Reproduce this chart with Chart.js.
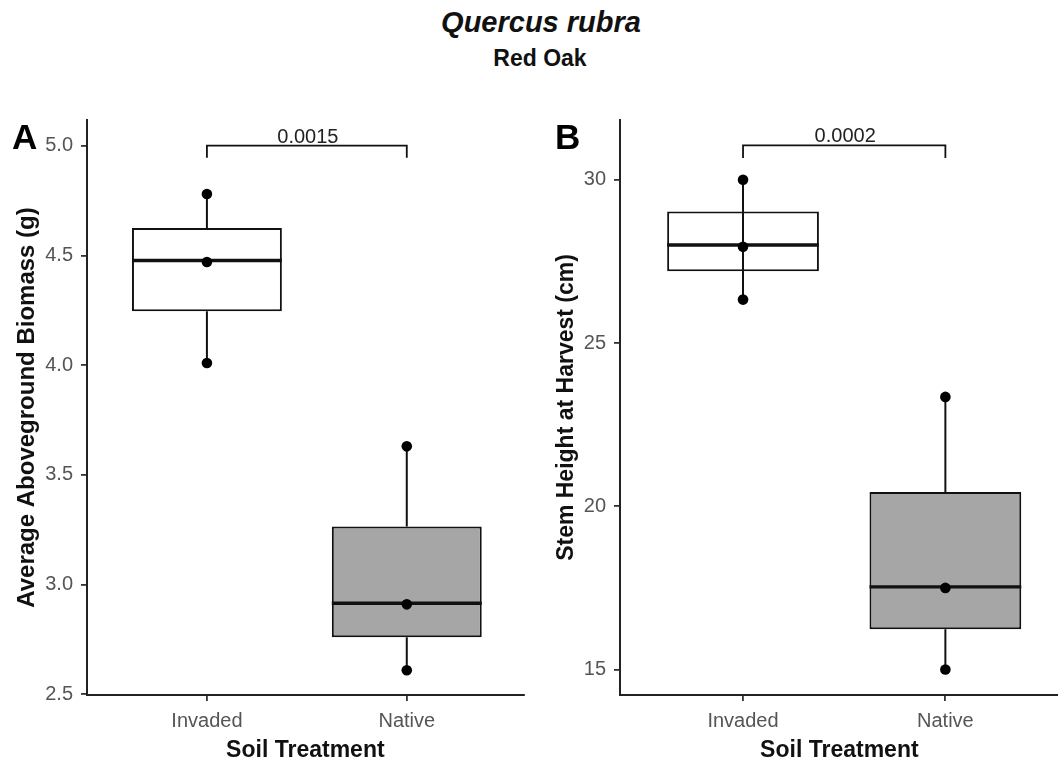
<!DOCTYPE html>
<html>
<head>
<meta charset="utf-8">
<script src="https://cdn.jsdelivr.net/npm/chart.js@4"></script>
<style>
  body { margin: 0; background: #fff; width: 1058px; height: 767px; position: relative; overflow: hidden;
         font-family: "Liberation Sans", Arial, sans-serif; }
  .txt { position: absolute; line-height: 1; white-space: nowrap; color: #000; z-index: 2; }
  #title { left: 0; width: 1082px; text-align: center; top: 8px; font-size: 29px; font-weight: bold; font-style: italic; color: #111; }
  #subtitle { left: 0; width: 1080px; text-align: center; top: 47px; font-size: 23px; font-weight: bold; color: #111; }
  .panel { font-size: 35px; font-weight: bold; top: 119px; }
  #wrapA { position: absolute; left: 0; top: 100px; width: 529px; height: 667px; }
  #wrapB { position: absolute; left: 530px; top: 100px; width: 534px; height: 667px; }
</style>
</head>
<body>
<div class="txt" id="title">Quercus rubra</div>
<div class="txt" id="subtitle">Red Oak</div>
<div class="txt panel" style="left:12px">A</div>
<div class="txt panel" style="left:555px">B</div>
<div id="wrapA"><canvas id="chartA"></canvas></div>
<div id="wrapB"><canvas id="chartB"></canvas></div>
<script>
// soil treatment groups
const groups = ['Invaded', 'Native'];

// Panel A - average aboveground biomass (g)
const biomassPoints = [[4.78, 4.47, 4.01], [3.63, 2.91, 2.61]];
const biomassQ1 = [4.245, 2.76];
const biomassMedian = [4.477, 2.915];
const biomassQ3 = [4.625, 3.265];
const biomassTicks = [2.5, 3.0, 3.5, 4.0, 4.5, 5.0];
const biomassBracket = [4.945, 5.0];   // foot, top
const biomassP = '0.0015';

// Panel B - stem height at harvest (cm)
const heightPoints = [[30.0, 27.95, 26.33], [23.35, 17.5, 15.0]];
const heightQ1 = [27.2, 16.23];
const heightMedian = [28.0, 17.53];
const heightQ3 = [29.03, 20.44];
const heightTicks = [15, 20, 25, 30];
const heightBracket = [30.67, 31.05];
const heightP = '0.0002';

Chart.defaults.font.family = '"Liberation Sans", Arial, sans-serif';
Chart.defaults.animation = false;

function pValueLabel(text, top) {
    return {
        id: 'pValueLabel',
        afterDatasetsDraw(chart) {
            const { ctx, scales: { x, y } } = chart;
            ctx.save();
            ctx.font = '20px "Liberation Sans", Arial, sans-serif';
            ctx.fillStyle = '#222';
            ctx.textAlign = 'center';
            ctx.textBaseline = 'alphabetic';
            ctx.fillText(text, (x.getPixelForValue(1) + x.getPixelForValue(2)) / 2 + 1, y.getPixelForValue(top) - 3);
            ctx.restore();
        }
    };
}

function boxChart(id, o) {
    const half = 0.375; // half box width in category units
    const under = [], over = [], medians = [], dots = [], boxes = [];
    o.points.forEach((pts, i) => {
        const x = i + 1;
        const lo = Math.min(...pts), hi = Math.max(...pts);
        if (o.through[i]) {
            over.push({ x, y: hi }, { x, y: lo }, { x, y: null });
        } else {
            under.push({ x, y: hi }, { x, y: o.q3[i] }, { x, y: null },
                       { x, y: o.q1[i] }, { x, y: lo }, { x, y: null });
        }
        medians.push({ x: x - half, y: o.median[i] }, { x: x + half, y: o.median[i] }, { x, y: null });
        boxes.push({ x, y: [o.q1[i], o.q3[i]] });
        pts.forEach(v => dots.push({ x, y: v }));
    });
    const b = o.bracket;
    const bracket = [{ x: 1, y: b[0] }, { x: 1, y: b[1] }, { x: 2, y: b[1] }, { x: 2, y: b[0] }];
    const lineDs = (data, width, order) => ({
        type: 'line', data, borderColor: '#111', borderWidth: width, pointRadius: 0,
        fill: false, tension: 0, spanGaps: false, order
    });

    new Chart(document.getElementById(id), {
        type: 'bar',
        data: {
            datasets: [
                { type: 'scatter', data: dots, pointRadius: 5.3, backgroundColor: '#000',
                  borderWidth: 0, order: 0 },
                lineDs(medians, 3.4, 1),
                lineDs(over, 2, 2),
                { type: 'bar', data: boxes, backgroundColor: ['#ffffff', '#a6a6a6'],
                  borderColor: '#111', borderWidth: 2, borderSkipped: false,
                  barPercentage: 0.75, categoryPercentage: 1, order: 3 },
                lineDs(under, 2, 4),
                lineDs(bracket, 1.8, 5)
            ]
        },
        options: {
            responsive: true,
            maintainAspectRatio: false,
            layout: { padding: o.padding },
            plugins: { legend: { display: false }, tooltip: { enabled: false } },
            scales: {
                x: {
                    type: 'linear', min: o.xMin, max: o.xMax, offset: false,
                    afterBuildTicks: s => { s.ticks = groups.map((g, i) => ({ value: i + 1 })); },
                    afterFit: s => { s.height = 72; },
                    grid: { display: true, drawOnChartArea: false, drawTicks: true, tickLength: 6,
                            color: '#333', lineWidth: 1.8, offset: false },
                    border: { display: true, color: '#222', width: 2 },
                    ticks: { color: '#555', font: { size: 20 }, padding: 8, maxRotation: 0,
                             autoSkip: false, callback: v => groups[v - 1] },
                    title: { display: true, text: 'Soil Treatment', color: '#111',
                             font: { size: 23, weight: 'bold' }, padding: { top: 0, bottom: 3 } }
                },
                y: {
                    type: 'linear', min: o.min, max: o.max,
                    afterBuildTicks: s => { s.ticks = o.ticks.map(v => ({ value: v })); },
                    afterFit: s => { s.width = o.yWidth; },
                    grid: { display: true, drawOnChartArea: false, drawTicks: true, tickLength: 6,
                            color: '#333', lineWidth: 1.8 },
                    border: { display: true, color: '#222', width: 2 },
                    ticks: { color: '#555', font: { size: 20 }, padding: 8, autoSkip: false,
                             callback: o.fmt },
                    title: { display: true, text: o.yTitle, color: '#111',
                             font: { size: o.yTitleSize, weight: 'bold' }, padding: { top: o.yTitlePad, bottom: 0 } }
                }
            }
        },
        plugins: [pValueLabel(o.p, b[1])]
    });
}

boxChart('chartA', {
    points: biomassPoints, q1: biomassQ1, median: biomassMedian, q3: biomassQ3,
    through: [false, false], bracket: biomassBracket, p: biomassP,
    ticks: biomassTicks, min: 2.497, max: 5.117, fmt: v => v.toFixed(1),
    xMin: 0.4, xMax: 2.585,
    yTitle: 'Average Aboveground Biomass (g)', yTitleSize: 24, yWidth: 87, yTitlePad: 12.5,
    padding: { top: 17, right: 5, left: 0, bottom: 0 }
});

boxChart('chartB', {
    points: heightPoints, q1: heightQ1, median: heightMedian, q3: heightQ3,
    through: [true, false], bracket: heightBracket, p: heightP,
    ticks: heightTicks, min: 14.22, max: 31.83, fmt: v => String(v),
    xMin: 0.392, xMax: 2.56,
    yTitle: 'Stem Height at Harvest (cm)', yTitleSize: 23, yWidth: 90, yTitlePad: 23,
    padding: { top: 17, right: 0, left: 0, bottom: 0 }
});
</script>
</body>
</html>
